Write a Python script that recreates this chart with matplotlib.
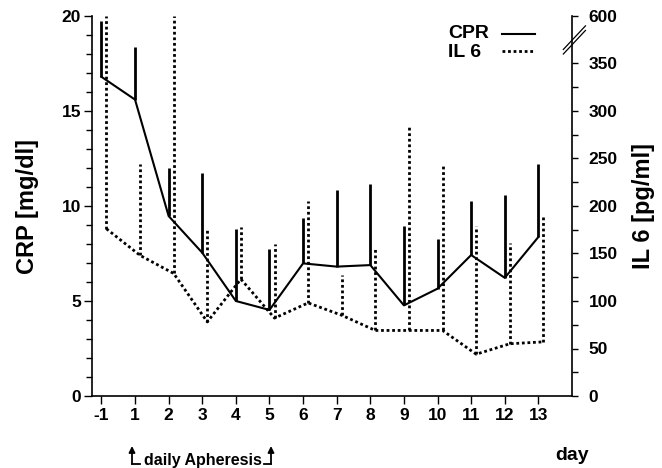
import matplotlib
matplotlib.use('Agg')
import matplotlib.pyplot as plt
from matplotlib.ticker import FixedLocator
from matplotlib.patches import FancyArrowPatch
import numpy as np

plt.rcParams['font.family'] = ['Liberation Sans', 'DejaVu Sans']
plt.rcParams['font.weight'] = 'bold'

days = ['-1', '1', '2', '3', '4', '5', '6', '7', '8', '9', '10', '11', '12', '13']
crp_mean = [16.8, 15.6, 9.47, 7.54, 5.0, 4.53, 6.98, 6.81, 6.89, 4.77, 5.65, 7.42, 6.22, 8.37]
crp_upper = [19.75, 18.35, 11.98, 11.72, 8.8, 7.72, 9.39, 10.84, 11.16, 8.96, 8.25, 10.28, 10.58, 12.19]
il6_mean = [176, 148, 129, 78, 123, 82, 98, 85, 69, 69, 69, 44, 55, 57]
il6_upper = [600, 244, 600, 177, 178, 160, 205, 127, 157, 283, 242, 179, 161, 189]


# broken right axis: linear up to 375, compressed above
def fwd(v):
    v = np.asarray(v, dtype=float)
    return np.where(v <= 375, v, 375 + (v - 375) / 9.0)


def inv(t):
    t = np.asarray(t, dtype=float)
    return np.where(t <= 375, t, 375 + (t - 375) * 9.0)


fig = plt.figure(figsize=(6.62, 4.68), dpi=100)
ax = fig.add_axes([92/662, 1-396/468, 480/662, 380/468])
ax2 = ax.twinx()

x = np.arange(len(days))
dot = (0, (1, 1))

ax.plot(x, crp_mean, color='black', lw=1.5)
ax.vlines(x, crp_mean, crp_upper, color='black', lw=2)

ax2.set_yscale('function', functions=(fwd, inv))
ax2.plot(x + 0.15, il6_mean, color='black', lw=2, linestyle=dot)
ax2.vlines(x + 0.15, il6_mean, il6_upper, color='black', lw=2, linestyle=dot)

ax.set_xlim(-0.28, 14)
ax.set_ylim(0, 20)
ax2.set_ylim(0, 600)

ax.set_xticks(x)
ax.set_xticklabels(days)
ax.set_yticks([0, 5, 10, 15, 20])
ax.yaxis.set_minor_locator(FixedLocator(np.arange(0, 21, 1)))
ax.tick_params(axis='x', direction='out', length=6, width=1, labelsize=12.5, pad=3)
ax.tick_params(axis='y', which='major', direction='out', length=6, width=1, labelsize=12.5, pad=2)
ax.tick_params(axis='y', which='minor', direction='out', length=4, width=1)

ax2.yaxis.set_major_locator(FixedLocator([0, 50, 100, 150, 200, 250, 300, 350, 600]))
ax2.set_yticklabels(['0', '50', '100', '150', '200', '250', '300', '350', '600'])
ax2.yaxis.set_minor_locator(FixedLocator(np.arange(25, 350, 50)))
ax2.tick_params(axis='y', which='major', direction='out', length=4, width=1, labelsize=12.5, pad=8)
ax2.tick_params(axis='y', which='minor', direction='out', length=4, width=1)

for s in ['top', 'right']:
    ax.spines[s].set_visible(False)
for s in ['top', 'left', 'bottom']:
    ax2.spines[s].set_visible(False)
for a in (ax, ax2):
    for s in a.spines.values():
        s.set_linewidth(1.2)

ax.set_ylabel('CRP [mg/dl]', fontsize=17, fontweight='bold', labelpad=16)
ax2.set_ylabel('IL 6 [pg/ml]', fontsize=17, fontweight='bold', labelpad=10)

# axis break marks on the right axis
for dy in (0, 0.012):
    ax.plot([0.982, 1.028], [0.9 + dy, 0.962 + dy], transform=ax.transAxes,
            color='black', lw=0.9, clip_on=False)

# legend: text left, line sample right
ax.text(0.742, 0.954, 'CPR', transform=ax.transAxes, fontsize=14, fontweight='bold',
        ha='left', va='center')
ax.text(0.742, 0.905, 'IL 6', transform=ax.transAxes, fontsize=14, fontweight='bold',
        ha='left', va='center')
ax.plot([0.854, 0.923], [0.953, 0.953], transform=ax.transAxes, color='black', lw=1.5,
        clip_on=False)
ax.plot([0.854, 0.923], [0.907, 0.907], transform=ax.transAxes, color='black', lw=2,
        linestyle=dot, clip_on=False)

fig.text(555/662, 1-455/468, 'day', fontsize=14, fontweight='bold', ha='left', va='center')
fig.text(203/662, 1-460/468, 'daily Apheresis', fontsize=11.5, fontweight='bold',
         ha='center', va='center')

# arrows marking the apheresis period
for xa, xb in ((132, 140), (271, 264)):
    fig.add_artist(plt.Line2D([xa/662, xb/662], [1-464/468, 1-464/468], color='black', lw=1.3))
    fig.add_artist(FancyArrowPatch((xa/662, 1-464/468), (xa/662, 1-446/468),
                                   transform=fig.transFigure, arrowstyle='-|>',
                                   mutation_scale=9, lw=1.3, color='black',
                                   shrinkA=0, shrinkB=0))

fig.savefig('out.png', dpi=100)
